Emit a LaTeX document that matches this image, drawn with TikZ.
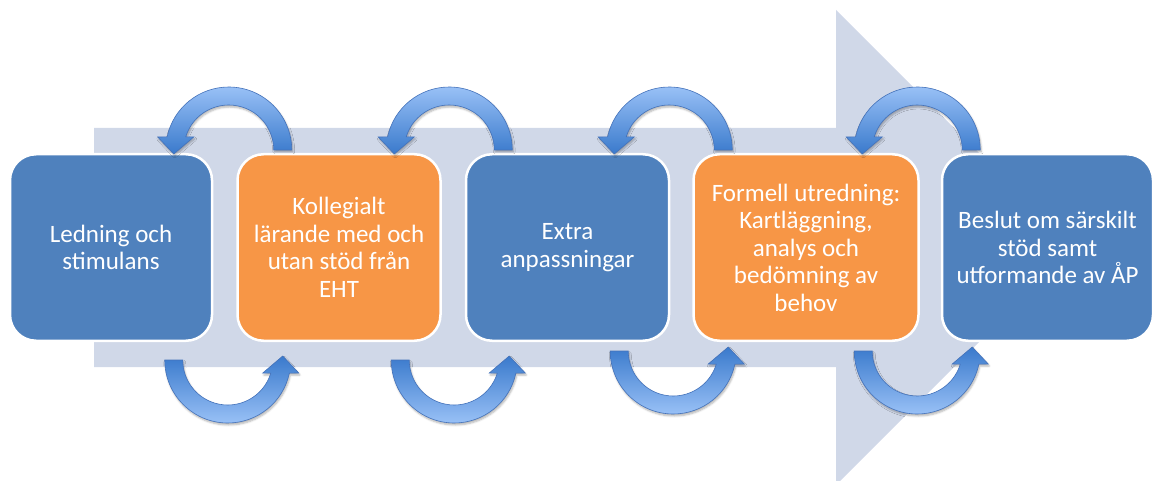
\documentclass[tikz,border=0pt]{standalone}
\usepackage{fontspec}
\setmainfont{Carlito}
\usetikzlibrary{positioning}
\usetikzlibrary{calc}
\usetikzlibrary{shadows.blur}
\usetikzlibrary{backgrounds}

\definecolor{stepblue}{RGB}{79,129,189}
\definecolor{steporange}{RGB}{247,150,70}
\definecolor{flowgrey}{RGB}{208,216,232}
\definecolor{loopLight}{RGB}{152,192,246}
\definecolor{loopDark}{RGB}{58,122,204}
\definecolor{loopEdge}{RGB}{68,114,186}

\begin{document}
\begin{tikzpicture}[
    x=1pt, y=1pt,
    % Blue step
    blue step/.style={
        draw=white,
        fill=stepblue,
        line width=2.5pt,
        rounded corners=26pt,
        minimum width=203pt,
        minimum height=186.5pt,
        align=center,
        text=white,
        font=\fontsize{25}{27.5}\selectfont
    },
    % Orange step
    orange step/.style={
        draw=white,
        fill=steporange,
        line width=2.5pt,
        rounded corners=26pt,
        minimum width=203pt,
        minimum height=186.5pt,
        align=center,
        text=white,
        font=\fontsize{25}{27.5}\selectfont
    },
    % Loop arrow
    loop arrow/.style={
        draw=loopEdge,
        line width=0.6pt,
        blur shadow={shadow blur steps=5, shadow xshift=1pt, shadow yshift=-2pt, shadow opacity=30}
    },
    over loop/.pic={
        \shade[loop arrow, top color=loopLight, bottom color=loopDark]
            (45,0) -- (63,0) arc[start angle=0, end angle=168, radius=63pt]
            -- (-71,13) -- (-55,-4) -- (-35,13)
            -- (163:45) arc[start angle=163, end angle=0, radius=45pt] -- cycle;
    },
    under loop/.pic={
        \shade[loop arrow, top color=loopDark, bottom color=loopLight]
            (-45,0) -- (-63,0) arc[start angle=180, end angle=348, radius=63pt]
            -- (71,-13) -- (55,4) -- (35,-13)
            -- (-17:45) arc[start angle=-17, end angle=-180, radius=45pt] -- cycle;
    }
]
\useasboundingbox (0,0) rectangle (1154,480);

% Steps
\node[blue step, minimum width=202pt] (ledning) at (111,232.5) {Ledning och\\stimulans};
\node[orange step, right=23pt of ledning] (kollegialt) {Kollegialt\\lärande med och\\utan stöd från\\EHT};
\node[blue step, right=23pt of kollegialt] (extra) {Extra\\anpassningar};
\node[orange step, minimum width=225pt, right=22pt of extra] (utredning) {Formell utredning:\\Kartläggning,\\analys och\\bedömning av\\behov};
\node[blue step, minimum width=211pt, right=21pt of utredning] (beslut) {Beslut om särskilt\\stöd samt\\utformande av ÅP};

% Loops over the steps (back to the previous step)
\pic at ($(ledning.north east)!0.5!(kollegialt.north west)+(4,3)$) {over loop};
\pic at ($(kollegialt.north east)!0.5!(extra.north west)+(-4,3)$) {over loop};
\pic at ($(extra.north east)!0.5!(utredning.north west)+(-12,3)$) {over loop};
\pic at ($(utredning.north east)!0.5!(beslut.north west)+(-13,3)$) {over loop};

% Loops under the steps (on to the next step)
\pic at ($(ledning.south east)!0.5!(kollegialt.south west)+(3,-18)$) {under loop};
\pic at ($(kollegialt.south east)!0.5!(extra.south west)+(1,-18)$) {under loop};
\pic at ($(extra.south east)!0.5!(utredning.south west)+(-8,-9)$) {under loop};
\pic at ($(utredning.south east)!0.5!(beslut.south west)+(-13,-9)$) {under loop};

% Background
\begin{scope}[on background layer]
    \fill[flowgrey] (94,352) -- (836,352) -- (836,470) -- (1073.5,232.5)
        -- (836,-5) -- (836,113) -- (94,113) -- cycle;
\end{scope}

\end{tikzpicture}
\end{document}
